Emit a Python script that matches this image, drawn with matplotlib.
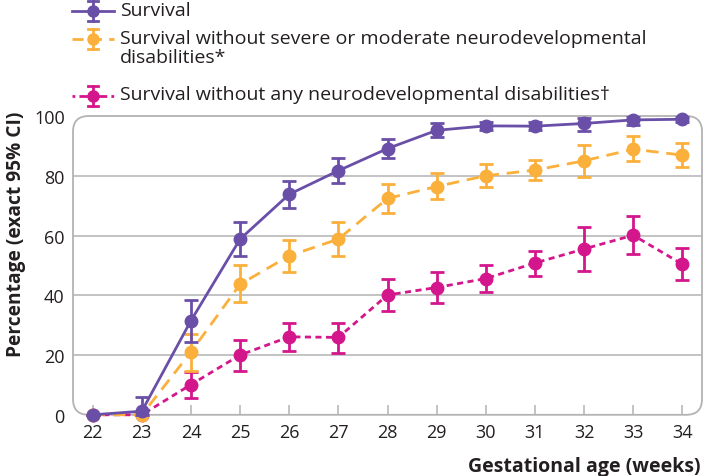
import matplotlib
matplotlib.use("Agg")
from matplotlib import pyplot as plt
from matplotlib.lines import Line2D
from matplotlib.patches import FancyBboxPatch

plt.rcParams['font.family'] = ['Open Sans', 'DejaVu Sans']

weeks = [22, 23, 24, 25, 26, 27, 28, 29, 30, 31, 32, 33, 34]

survival = [0, 1.2, 31.5, 58.8, 73.8, 81.7, 89.1, 95.2, 96.7, 96.6, 97.5, 98.7, 98.9]
survival_lo = [0, 0, 24.5, 53.2, 69.2, 77.5, 85.9, 93.0, 95.3, 95.2, 95.0, 97.0, 98.0]
survival_hi = [0, 6.0, 38.4, 64.5, 78.3, 86.0, 92.2, 97.7, 98.0, 98.0, 99.3, 99.8, 99.6]

no_severe = [0, 0, 21.0, 43.7, 53.2, 58.8, 72.4, 76.4, 80.0, 81.9, 85.0, 88.9, 86.9]
no_severe_lo = [0, 0, 14.8, 37.7, 47.9, 53.1, 67.5, 72.2, 76.1, 78.5, 79.6, 84.8, 83.0]
no_severe_hi = [0, 0, 27.0, 50.0, 58.6, 64.5, 77.2, 80.9, 83.9, 85.2, 90.2, 93.3, 90.8]

no_any = [0, 0, 10.1, 20.0, 26.1, 25.9, 40.1, 42.6, 45.6, 50.8, 55.5, 60.1, 50.4]
no_any_lo = [0, 0, 5.6, 14.8, 21.4, 20.7, 34.6, 37.4, 41.2, 46.5, 48.1, 53.8, 45.1]
no_any_hi = [0, 0, 14.4, 25.1, 30.7, 30.7, 45.4, 47.9, 50.1, 54.8, 62.9, 66.4, 55.8]

labels = ["Survival",
          "Survival without severe or moderate neurodevelopmental\ndisabilities*",
          "Survival without any neurodevelopmental disabilities\u2020"]

purple = '#6a4fa8'
orange = '#fbb03b'
magenta = '#d4168c'
text_col = '#231f20'

W, H = 703, 477
fig = plt.figure(figsize=(W / 100, H / 100), dpi=100)
ax = fig.add_axes([73 / W, 1 - 415.8 / H, (702 - 73) / W, (415.8 - 117) / H])
ax.set_xlim(21.6, 34.4)
ax.set_ylim(0, 100)

for s in ax.spines.values():
    s.set_visible(False)
frame = FancyBboxPatch((0, 0), 1, 1, boxstyle="round,pad=0,rounding_size=0.025",
                       mutation_aspect=2.1, transform=ax.transAxes,
                       facecolor='none', edgecolor='#b3b3b3', linewidth=1.3, zorder=1,
                       clip_on=False)
ax.add_patch(frame)

for yv in [20, 40, 60, 80]:
    ax.axhline(yv, color='#b3b3b3', linewidth=1.1, zorder=0)


def draw(y, lo, hi, color, ls, z):
    err = [[v - l for v, l in zip(y, lo)], [h - v for v, h in zip(y, hi)]]
    line, caps, bars = ax.errorbar(weeks, y, yerr=err, color=color, linestyle=ls,
                                   linewidth=2, marker='o', markersize=9,
                                   elinewidth=2, capsize=5, capthick=2, zorder=z)
    for a in [line, *caps, *bars]:
        a.set_clip_on(False)


draw(no_any, no_any_lo, no_any_hi, magenta, (0, (2.2, 1.6)), 3)
draw(no_severe, no_severe_lo, no_severe_hi, orange, (0, (4.5, 2.8)), 4)
draw(survival, survival_lo, survival_hi, purple, '-', 5)

ax.set_xticks(weeks)
ax.set_yticks([0, 20, 40, 60, 80, 100])
ax.tick_params(axis='x', direction='in', length=7, color='#b3b3b3', width=1.1,
               labelsize=13, labelcolor=text_col, pad=6)
ax.tick_params(axis='y', length=0, labelsize=13, labelcolor=text_col, pad=6)

ax.set_ylabel('Percentage (exact 95% CI)', fontsize=13.8, fontweight='bold',
              color=text_col)
ax.yaxis.set_label_coords(-0.074, 0.609)
fig.text(700 / W, 1 - 467 / H, 'Gestational age (weeks)', ha='right', va='center',
         fontsize=14, fontweight='bold', color=text_col)

# legend drawn by hand so handles line up with the first line of text
entries = [(12, purple, '-', labels[0]),
           (40, orange, (0, (4, 2.6)), labels[1]),
           (97, magenta, (0, (1, 1.5, 3, 1.5)), labels[2])]
for py, color, ls, text in entries:
    yf = 1 - py / H
    fig.add_artist(Line2D([72 / W, 114 / W], [yf, yf], color=color, linestyle=ls,
                          linewidth=2, transform=fig.transFigure))
    fig.add_artist(Line2D([93 / W], [yf], color=color, marker='o', markersize=8,
                          transform=fig.transFigure))
    fig.add_artist(Line2D([93 / W, 93 / W], [yf - 10 / H, yf + 10 / H], color=color,
                          linewidth=2, transform=fig.transFigure))
    for cy in (yf - 10 / H, yf + 10 / H):
        fig.add_artist(Line2D([88 / W, 98 / W], [cy, cy], color=color,
                              linewidth=2, transform=fig.transFigure))
    fig.text(120 / W, yf + 10.5 / H, text, ha='left', va='top', fontsize=14,
             color=text_col, linespacing=1.1)

fig.savefig('out.png', dpi=100)
